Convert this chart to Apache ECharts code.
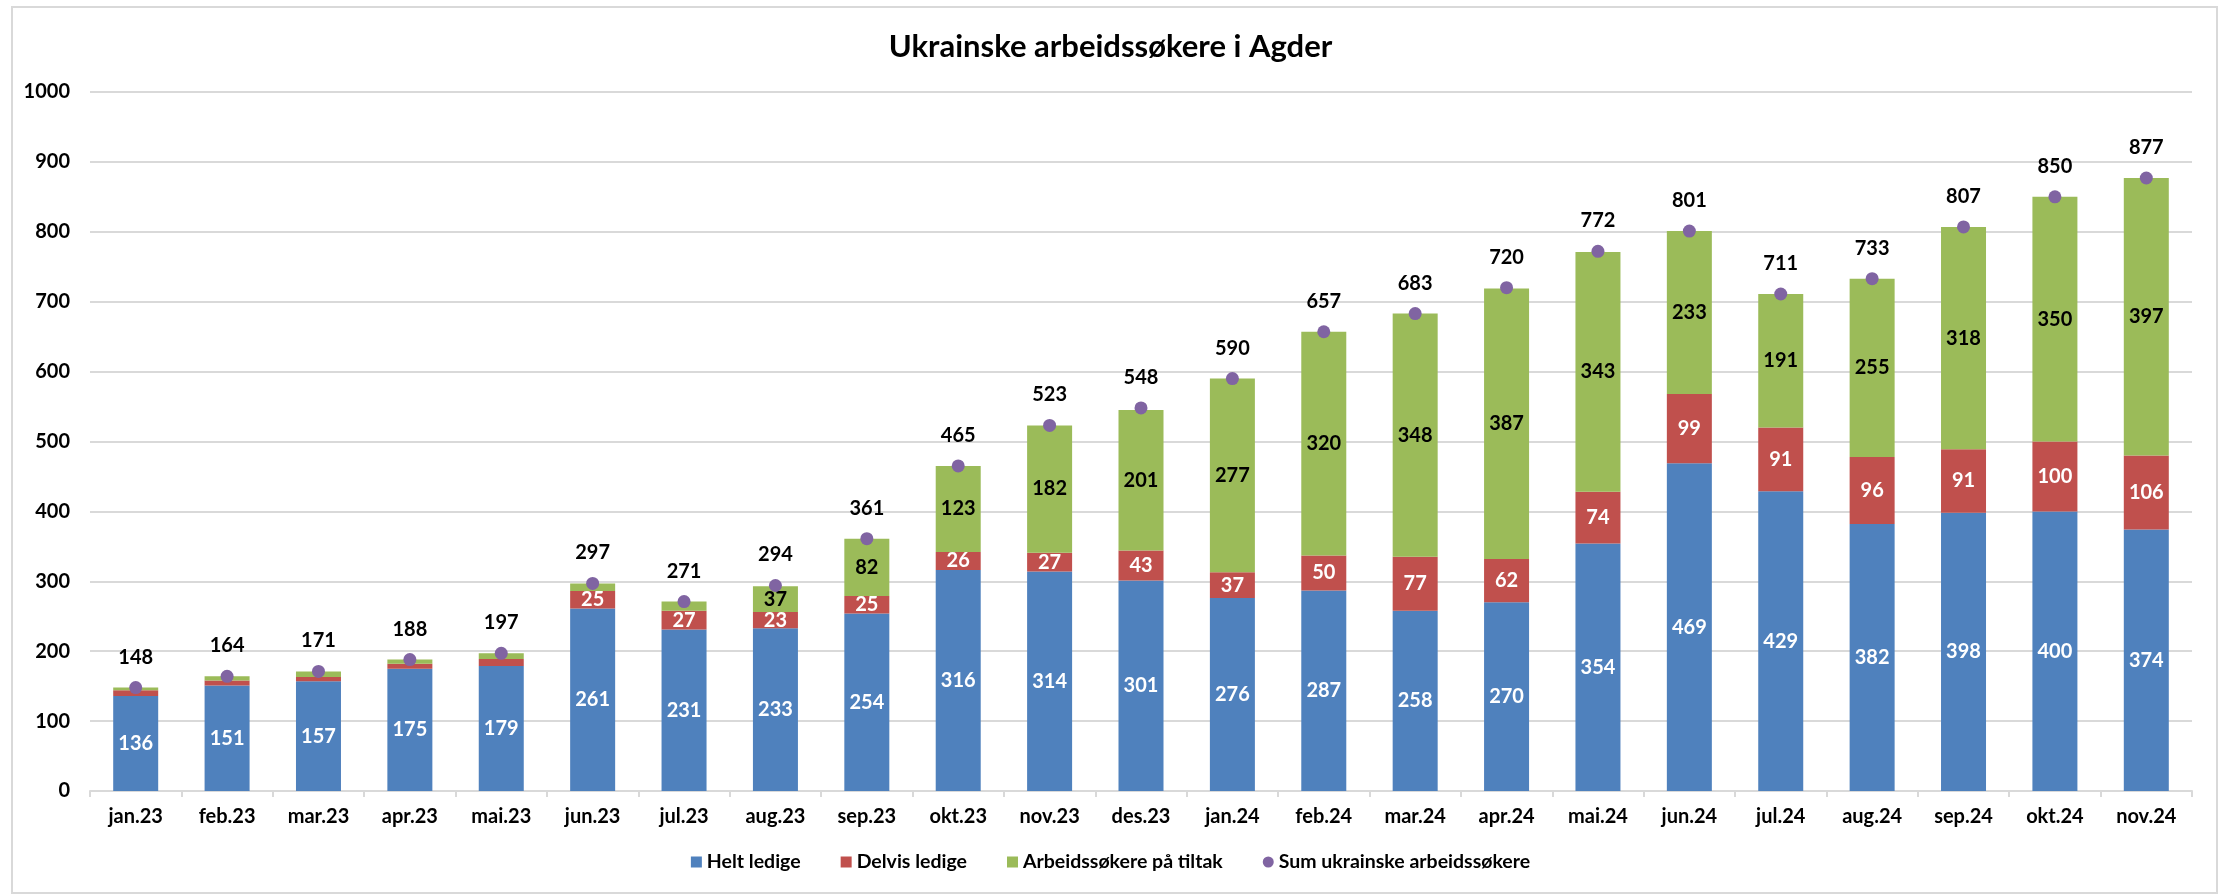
<!DOCTYPE html>
<html>
<head>
<meta charset="utf-8">
<script src="https://cdn.jsdelivr.net/npm/echarts@6/dist/echarts.min.js"></script>
<style>
  html, body { margin: 0; padding: 0; background: #fff; }
  #chart { width: 2221px; height: 894px; }
</style>
</head>
<body>
<div id="chart"></div>
<script>
const months = ["jan.23", "feb.23", "mar.23", "apr.23", "mai.23", "jun.23", "jul.23", "aug.23", "sep.23", "okt.23", "nov.23", "des.23",
  "jan.24", "feb.24", "mar.24", "apr.24", "mai.24", "jun.24", "jul.24", "aug.24", "sep.24", "okt.24", "nov.24"];
const heltLedige = [136, 151, 157, 175, 179, 261, 231, 233, 254, 316, 314, 301, 276, 287, 258, 270, 354, 469, 429, 382, 398, 400, 374];
const delvisLedige = [8, 7, 6, 7, 10, 25, 27, 23, 25, 26, 27, 43, 37, 50, 77, 62, 74, 99, 91, 96, 91, 100, 106];
const paTiltak = [4, 6, 8, 6, 8, 11, 13, 37, 82, 123, 182, 201, 277, 320, 348, 387, 343, 233, 191, 255, 318, 350, 397];
const sumTotal = [148, 164, 171, 188, 197, 297, 271, 294, 361, 465, 523, 548, 590, 657, 683, 720, 772, 801, 711, 733, 807, 850, 877];

const FONT = "Lato, 'Open Sans', sans-serif";

const chart = echarts.init(document.getElementById("chart"));

// small segments have no label in the original
const hideSmall = (p) => (p.value < 20 ? "" : p.value);

chart.setOption({
  animation: false,
  textStyle: { fontFamily: FONT },
  graphic: [
    {
      type: "rect",
      shape: { x: 12, y: 7, width: 2205, height: 886 },
      style: { fill: "none", stroke: "#d9d9d9", lineWidth: 2 },
      silent: true,
    },
  ],
  title: {
    text: "Ukrainske arbeidssøkere i Agder",
    left: "center",
    top: 26,
    textStyle: { fontFamily: FONT, fontSize: 31, fontWeight: "bold", color: "#000" },
  },
  legend: {
    bottom: 17,
    left: "center",
    itemGap: 40,
    itemWidth: 11,
    itemHeight: 11,
    textStyle: { fontFamily: FONT, fontSize: 19.5, fontWeight: "bold", color: "#000" },
    data: [
      { name: "Helt ledige", icon: "rect" },
      { name: "Delvis ledige", icon: "rect" },
      { name: "Arbeidssøkere på tiltak", icon: "rect" },
      { name: "Sum ukrainske arbeidssøkere", icon: "circle" },
    ],
  },
  grid: { left: 90, right: 29, top: 92, bottom: 103 },
  xAxis: {
    type: "category",
    data: months,
    axisLine: { lineStyle: { color: "#d9d9d9", width: 2 } },
    axisTick: { show: true, length: 6, lineStyle: { color: "#d9d9d9", width: 2 } },
    axisLabel: { color: "#000", fontSize: 20, fontWeight: "bold", margin: 16 },
  },
  yAxis: {
    type: "value",
    min: 0,
    max: 1000,
    interval: 100,
    axisLine: { show: false },
    axisTick: { show: false },
    splitLine: { lineStyle: { color: "#d9d9d9", width: 2 } },
    axisLabel: { color: "#000", fontSize: 20, fontWeight: "bold", margin: 20, formatter: (v) => String(v) },
  },
  series: [
    {
      name: "Helt ledige",
      type: "bar",
      stack: "total",
      barWidth: 45,
      data: heltLedige,
      itemStyle: { color: "#4f81bd" },
      label: { show: true, position: "inside", color: "#fff", fontSize: 20, fontWeight: "bold" },
    },
    {
      name: "Delvis ledige",
      type: "bar",
      stack: "total",
      data: delvisLedige,
      itemStyle: { color: "#c0504d" },
      label: { show: true, position: "inside", color: "#fff", fontSize: 20, fontWeight: "bold", formatter: hideSmall },
    },
    {
      name: "Arbeidssøkere på tiltak",
      type: "bar",
      stack: "total",
      data: paTiltak,
      itemStyle: { color: "#9bbb59" },
      label: { show: true, position: "inside", color: "#000", fontSize: 20, fontWeight: "bold", formatter: hideSmall },
    },
    {
      name: "Sum ukrainske arbeidssøkere",
      type: "line",
      data: sumTotal,
      symbol: "circle",
      symbolSize: 13,
      lineStyle: { width: 0, opacity: 0 },
      itemStyle: { color: "#8064a2" },
      z: 5,
      label: { show: true, position: "top", distance: 14, color: "#000", fontSize: 20, fontWeight: "bold" },
    },
  ],
});
</script>
</body>
</html>
